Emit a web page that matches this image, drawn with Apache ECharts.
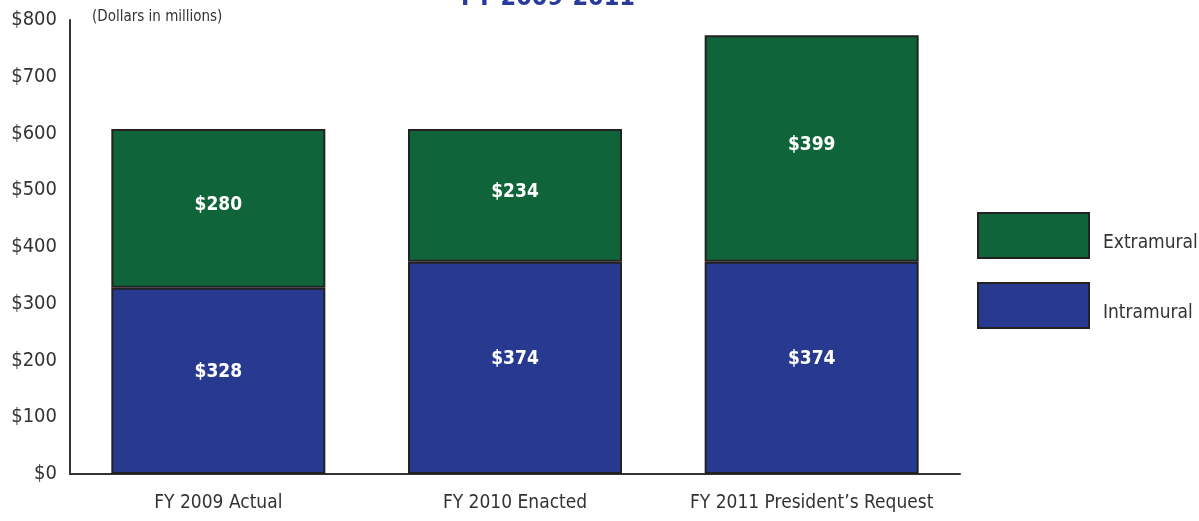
<!DOCTYPE html>
<html>
<head>
<meta charset="utf-8">
<script src="https://cdn.jsdelivr.net/npm/echarts@6/dist/echarts.min.js"></script>
<style>
  html, body { margin: 0; padding: 0; background: #fff; }
  #chart { width: 1199px; height: 521px; }
</style>
</head>
<body>
<div id="chart"></div>
<script>
// Budget by fiscal year, dollars in millions
const categories = ['FY 2009 Actual', 'FY 2010 Enacted', 'FY 2011 President\u2019s Request'];
const intramural = [328, 374, 374];
const extramural = [280, 234, 399];
const yTicks = [0, 100, 200, 300, 400, 500, 600, 700, 800];

const FONT = '"Liberation Sans Narrow", "DejaVu Sans Condensed", "Liberation Sans", sans-serif';
const GREEN = '#10643a';
const BLUE = '#283a8f';
const EDGE = '#222222';

const chart = echarts.init(document.getElementById('chart'));

function segLabel(dy) {
  return {
    show: true,
    position: 'inside',
    offset: [0, dy],
    color: '#ffffff',
    fontFamily: FONT,
    fontWeight: 'bold',
    fontSize: 19,
    formatter: p => '$' + p.value
  };
}

chart.setOption({
  animation: false,
  textStyle: { fontFamily: FONT },
  graphic: [
    {
      type: 'text', left: 461, top: -14,
      style: { text: 'FY 2009-2011', fill: '#283a9a', font: 'bold 25px ' + FONT }
    },
    {
      type: 'text', left: 92, top: 10,
      style: { text: '(Dollars in millions)', fill: '#333', font: '15px ' + FONT }
    }
  ],
  legend: {
    orient: 'vertical',
    left: 972, top: 207,
    icon: 'rect',
    itemWidth: 111, itemHeight: 45, itemGap: 23,
    data: ['Extramural', 'Intramural'],
    formatter: name => '{t|' + name + '}',
    textStyle: {
      fontFamily: FONT, fontSize: 19, color: '#333',
      rich: { t: { fontFamily: FONT, fontSize: 19, color: '#333', padding: [16, 0, 0, 9] } }
    },
    itemStyle: { borderColor: EDGE, borderWidth: 2 }
  },
  grid: { left: 70, right: 239, top: 20, bottom: 47 },
  xAxis: {
    type: 'category',
    data: categories,
    axisLine: { lineStyle: { color: '#333', width: 2 } },
    axisTick: { show: false },
    axisLabel: { color: '#333', fontFamily: FONT, fontSize: 19, margin: 20, interval: 0 }
  },
  yAxis: {
    type: 'value',
    min: yTicks[0], max: yTicks[yTicks.length - 1], interval: 100,
    axisLine: { show: true, lineStyle: { color: '#333', width: 2 } },
    axisTick: { show: false },
    splitLine: { show: false },
    axisLabel: { color: '#333', fontFamily: FONT, fontSize: 20, margin: 13, formatter: v => '$' + v }
  },
  series: [
    {
      name: 'Intramural', type: 'bar', stack: 'total', barWidth: 214,
      data: intramural,
      itemStyle: { color: BLUE, borderColor: EDGE, borderWidth: 2 },
      label: segLabel(-9)
    },
    {
      name: 'Extramural', type: 'bar', stack: 'total', barWidth: 214,
      data: extramural,
      itemStyle: { color: GREEN, borderColor: EDGE, borderWidth: 2 },
      label: segLabel(-3)
    }
  ]
});
</script>
</body>
</html>
